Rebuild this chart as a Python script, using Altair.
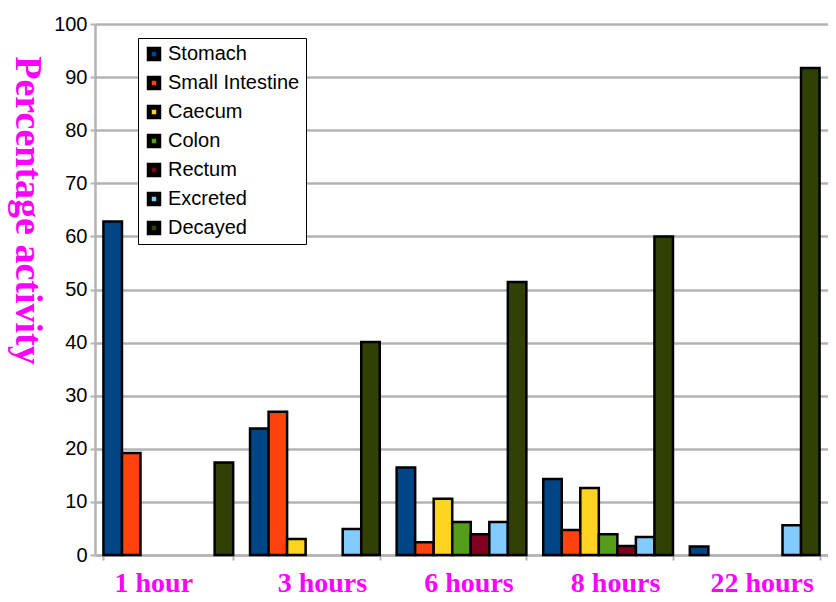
import altair as alt
import pandas as pd

times = ["1 hour", "3 hours", "6 hours", "8 hours", "22 hours"]
series = ["Stomach", "Small Intestine", "Caecum", "Colon", "Rectum", "Excreted", "Decayed"]
colors = ["#004586", "#FF420E", "#FFD320", "#579D1C", "#7E0021", "#83CAFF", "#314004"]

stomach = [62.8, 23.8, 16.5, 14.3, 1.6]
small_intestine = [19.2, 27.0, 2.4, 4.7, 0]
caecum = [0, 3.0, 10.6, 12.6, 0]
colon = [0, 0, 6.2, 3.9, 0]
rectum = [0, 0, 3.9, 1.7, 0]
excreted = [0, 4.9, 6.2, 3.4, 5.6]
decayed = [17.4, 40.1, 51.4, 60.0, 91.7]

values = [stomach, small_intestine, caecum, colon, rectum, excreted, decayed]
rows = []
for s, vals in zip(series, values):
    for t, v in zip(times, vals):
        if v > 0:
            rows.append({"time": t, "series": s, "value": v})
df = pd.DataFrame(rows)

grey = "#b3b3b3"

chart = alt.Chart(df).mark_bar(stroke="black", strokeWidth=2.5).encode(
    x=alt.X("time:N", sort=times,
            scale=alt.Scale(domain=times, paddingInner=0.115, paddingOuter=0.0575),
            axis=alt.Axis(title=None, labelFont="Liberation Serif", labelFontWeight="bold",
                          labelFontSize=28, labelColor="#FF00FF", labelAngle=0,
                          labelOffset=alt.condition("datum.value == '1 hour'",
                                                    alt.value(-15), alt.value(7)),
                          tickBand="extent", domainColor=grey, domainWidth=2.5,
                          tickColor=grey, tickWidth=2, tickSize=5, labelPadding=9,
                          grid=False)),
    xOffset=alt.XOffset("series:N", sort=series,
                        scale=alt.Scale(domain=series, paddingInner=0, paddingOuter=0)),
    y=alt.Y("value:Q", scale=alt.Scale(domain=[0, 100], nice=False),
            axis=alt.Axis(values=list(range(0, 101, 10)), title="Percentage activity",
                          titleFont="Liberation Serif", titleFontSize=38,
                          titleFontWeight="bold", titleColor="#FF00FF", titleAngle=90,
                          titleX=-69, titleY=186, titleAlign="center",
                          titleBaseline="middle",
                          labelFont="Liberation Sans", labelFontSize=20,
                          labelColor="black", gridColor=grey, gridWidth=2.5,
                          domainColor=grey, domainWidth=2.5, tickColor=grey,
                          tickSize=5, tickWidth=2, labelPadding=3)),
    color=alt.Color("series:N", sort=series,
                    scale=alt.Scale(domain=series, range=colors),
                    legend=alt.Legend(title=None, orient="none", legendX=43, legendY=14,
                                      strokeColor="black", fillColor="white",
                                      padding=6, rowPadding=9, clipHeight=20,
                                      labelFont="Liberation Sans", labelFontSize=20,
                                      labelColor="black", symbolType="square",
                                      symbolSize=90, symbolStrokeColor="black",
                                      symbolStrokeWidth=5, symbolOpacity=1,
                                      labelOffset=4)),
).properties(
    width=733, height=531,
    autosize=alt.AutoSizeParams(type="none"),
    padding={"left": 87, "top": 16, "right": 0, "bottom": 42},
).configure_view(stroke=None).configure(background="white")

chart.save("out.html", embed_options={"renderer": "svg", "actions": False})
